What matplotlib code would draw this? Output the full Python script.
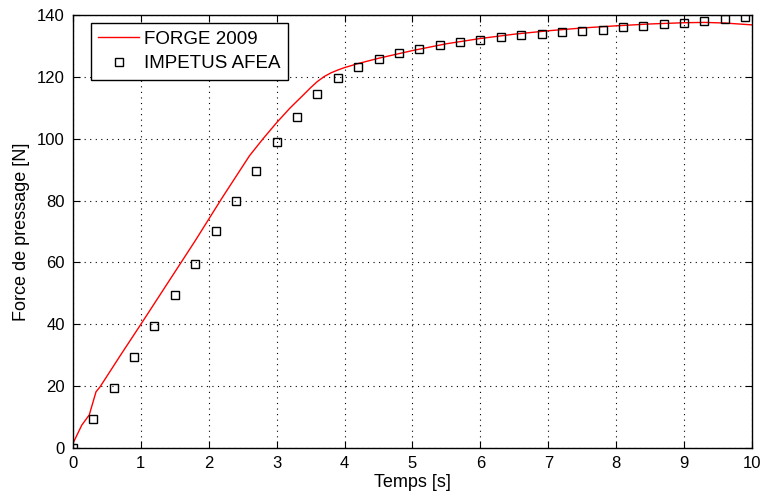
import matplotlib
matplotlib.use("Agg")
import matplotlib.pyplot as plt

plt.rcParams['font.family'] = ['Liberation Sans', 'DejaVu Sans']

# FORGE 2009 curve
forge_t = [0, 0.13, 0.24, 0.34, 0.4, 0.7, 1.0, 1.4, 1.8, 2.2, 2.6, 2.8, 3.0, 3.2, 3.4,
           3.5, 3.6, 3.7, 3.8, 3.9, 4.0, 4.2, 4.5, 5.0, 5.5, 6.0, 6.5, 7.0, 7.5, 8.0, 8.5, 9.0, 9.3, 9.6, 10.0]
forge_f = [1.5, 7.4, 10.7, 18.2, 19.8, 30, 40, 53.5, 67, 81, 94.5, 100, 105.2, 110.0, 114.3,
           116.5, 118.5, 120.1, 121.3, 122.2, 123.0, 124.3, 126, 128.5, 130.7, 132.4, 133.8, 134.9, 135.8, 136.5, 137.1, 137.5, 137.6, 137.4, 136.8]

# IMPETUS AFEA points
imp_t = [0.0, 0.3, 0.6, 0.9, 1.2, 1.5, 1.8, 2.1, 2.4, 2.7, 3.0, 3.3, 3.6, 3.9, 4.2, 4.5, 4.8,
         5.1, 5.4, 5.7, 6.0, 6.3, 6.6, 6.9, 7.2, 7.5, 7.8, 8.1, 8.4, 8.7, 9.0, 9.3, 9.6, 9.9]
imp_f = [0, 9.5, 19.5, 29.5, 39.5, 49.5, 59.5, 70, 80, 89.5, 99, 107, 114.4, 119.6, 123.3, 125.8, 127.8,
         129.1, 130.4, 131.3, 132.0, 132.8, 133.4, 134.0, 134.5, 134.9, 135.3, 136.0, 136.5, 137.1, 137.5, 138.0, 138.6, 139.2]

xticks = [0, 1, 2, 3, 4, 5, 6, 7, 8, 9, 10]
yticks = [0, 20, 40, 60, 80, 100, 120, 140]

fig = plt.figure(figsize=(7.64, 4.98), dpi=100)
ax = fig.add_axes([0.0955, 0.1004, 0.8888, 0.8695])

ax.plot(forge_t, forge_f, color='red', lw=1.0, label='FORGE 2009')
ax.plot(imp_t, imp_f, ls='none', marker='s', ms=5.5, mfc='none', mec='black', mew=1.0,
        label='IMPETUS AFEA')

ax.set_xlim(0, 10)
ax.set_ylim(0, 140)
ax.set_xticks(xticks)
ax.set_yticks(yticks)
ax.tick_params(direction='in', top=True, right=True, length=5, labelsize=12,
               colors='black', pad=6)
ax.grid(True, ls=(0, (1, 4)), color='black', lw=0.8)
for s in ax.spines.values():
    s.set_linewidth(1.0)

ax.set_xlabel('Temps [s]', fontsize=13, labelpad=2)
ax.set_ylabel('Force de pressage [N]', fontsize=13, labelpad=5)

leg = ax.legend(loc='upper left', bbox_to_anchor=(0.026, 0.981), borderaxespad=0,
                prop={'size': 13.5}, fancybox=False, framealpha=1, edgecolor='black',
                handlelength=2.2, handletextpad=0.25, borderpad=0.4, labelspacing=0.4)
leg.get_frame().set_linewidth(1.0)

fig.savefig('out.png', dpi=100)
